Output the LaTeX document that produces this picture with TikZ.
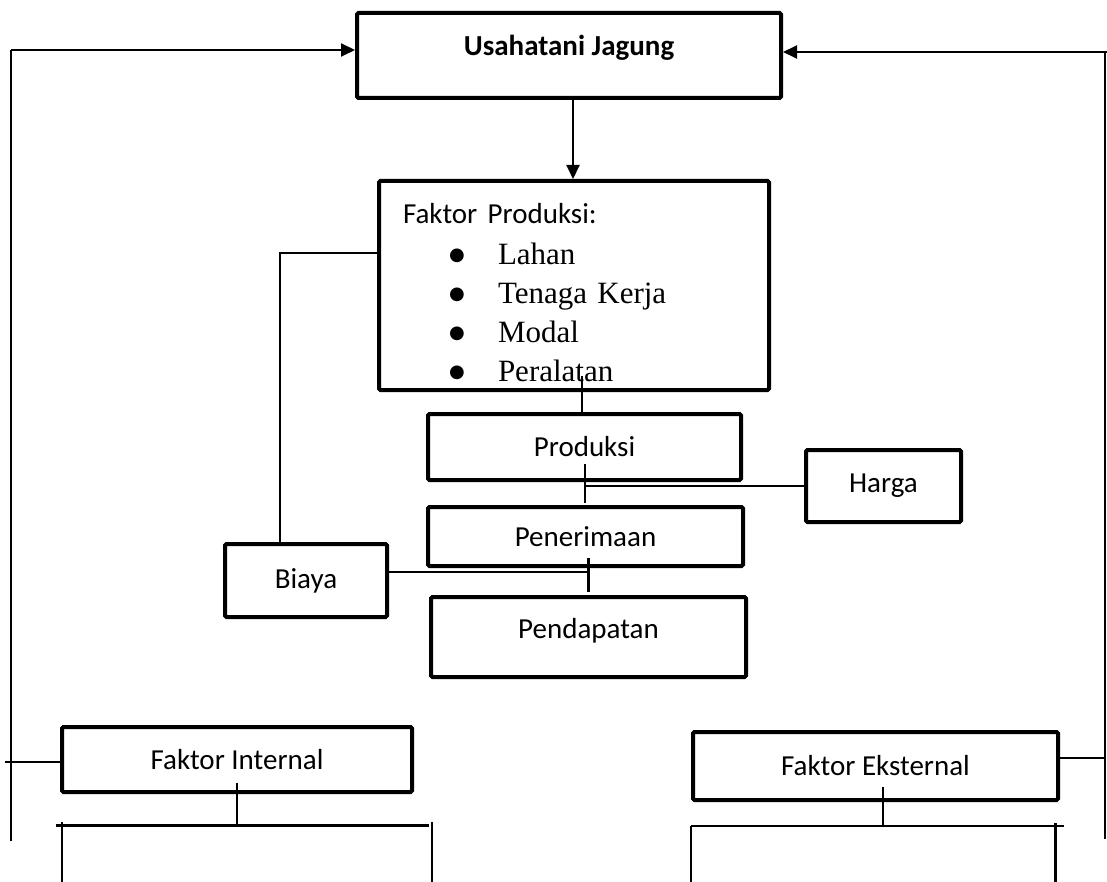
\documentclass[tikz,border=0pt]{standalone}
\usepackage{fontspec}
\setmainfont{Liberation Serif}
\newfontfamily\calibri{Carlito}
\newfontfamily\dejavu{DejaVu Sans}
\usetikzlibrary{arrows.meta}
\newcommand\bulletitem[1]{\hspace*{54pt}\makebox[0pt]{\raisebox{4pt}{\dejavu\fontsize{18}{18}\selectfont ●}}\hspace*{41pt}#1}
\begin{document}
\begin{tikzpicture}[x=1pt,y=-1pt,
  box/.style={draw, line width=4pt, rounded corners=1.5pt, outer sep=0pt, inner sep=0pt,
    font=\calibri\fontsize{29}{35}\selectfont},
  conn/.style={line width=2pt},
  thickconn/.style={line width=3pt},
  arr/.style={line width=2pt, shorten >=2pt, -{Triangle[length=14pt,width=13pt]}}]
\useasboundingbox (0,0) rectangle (1107,882);

% boxes
\node[box, minimum width=424pt, minimum height=85pt, text height=10pt, text depth=10pt,
  font=\calibri\bfseries\fontsize{29}{35}\selectfont] (uj) at (569,55.5) {Usahatani Jagung};
\node[box, minimum width=390pt, minimum height=209pt, text width=342pt, inner xsep=24pt,
  align=left, font=\fontsize{31}{39}\selectfont] (fp) at (574,285.5)
  {\rule{0pt}{35pt}{\calibri\fontsize{29}{39}\selectfont Faktor Produksi:}\\[2pt]
   \bulletitem{Lahan}\\
   \bulletitem{Tenaga Kerja}\\
   \bulletitem{Modal}\\
   \bulletitem{Peralatan}};
\node[box, minimum width=313pt, minimum height=66pt] (prod) at (584.5,447) {Produksi};
\node[box, minimum width=315pt, minimum height=59pt] (pen) at (585.5,536.5) {Penerimaan};
\node[box, minimum width=315pt, minimum height=80pt, text depth=18pt] (pend) at (588.5,637) {Pendapatan};
\node[box, minimum width=155pt, minimum height=72pt] (harga) at (883.5,486) {Harga};
\node[box, minimum width=162pt, minimum height=73pt] (biaya) at (306,580.5) {Biaya};
\node[box, minimum width=350pt, minimum height=65pt] (fi) at (237,759.5) {Faktor Internal};
\node[box, minimum width=365pt, minimum height=68pt] (fe) at (875.5,766) {Faktor Eksternal};

% outer left loop
\coordinate (lt) at (11,50);
\coordinate (lb) at (11,841);
\draw[conn] (lb) -- (lt);
\draw[arr] (lt) -- (lt -| uj.west);
\coordinate (fil) at (5,762);
\draw[conn] (fil) -- (fil -| fi.west);

% outer right loop
\coordinate (rt) at (1107,52);
\coordinate (rv) at (1105,52);
\coordinate (rb) at (1105,839);
\draw[arr] (rt) -- (rt -| uj.east);
\draw[conn] (rv) -- (rb);
\coordinate (fer) at (1105,758);
\draw[conn] (fe.east |- fer) -- (fer);

% Usahatani -> Faktor Produksi
\coordinate (dx) at (573,0);
\draw[arr] (uj.south -| dx) -- (fp.north -| dx);

% Faktor Produksi -> Produksi
\coordinate (pa) at (582,376);
\draw[conn] (pa) -- (pa |- prod.north);

% Produksi - Harga
\coordinate (hv1) at (585,464);
\coordinate (hv2) at (585,503);
\coordinate (hj) at (585,486);
\draw[conn] (hv1) -- (hv2);
\draw[conn] (hj) -- (hj -| harga.west);

% Faktor Produksi - Biaya
\coordinate (bt) at (280,253);
\draw[conn] (bt -| fp.west) -- (bt) -- (bt |- biaya.north);
\coordinate (bj) at (588,572);
\draw[conn] (biaya.east |- bj) -- (bj);
\coordinate (pv1) at (588,558);
\coordinate (pv2) at (588,592);
\draw[thickconn] (pv1) -- (pv2);

% Faktor Internal bracket
\coordinate (fis) at (237,783);
\coordinate (fib) at (237,825);
\coordinate (fil1) at (56,825);
\coordinate (fil2) at (429,825);
\coordinate (fll) at (62,822);
\coordinate (flr) at (432,822);
\coordinate (fllb) at (62,882);
\coordinate (flrb) at (432,882);
\draw[conn] (fis) -- (fib);
\draw[thickconn] (fil1) -- (fil2);
\draw[conn] (fll) -- (fllb);
\draw[conn] (flr) -- (flrb);

% Faktor Eksternal bracket
\coordinate (fes) at (883,787);
\coordinate (feb) at (883,826);
\coordinate (fe1) at (691,826);
\coordinate (fe2) at (1064,826);
\coordinate (frl) at (691,826);
\coordinate (frr) at (1055,823);
\coordinate (frlb) at (691,882);
\coordinate (frrb) at (1055,882);
\draw[conn] (fes) -- (feb);
\draw[conn] (fe1) -- (fe2);
\draw[conn] (frl) -- (frlb);
\draw[thickconn] (frr) -- (frrb);
\end{tikzpicture}
\end{document}
